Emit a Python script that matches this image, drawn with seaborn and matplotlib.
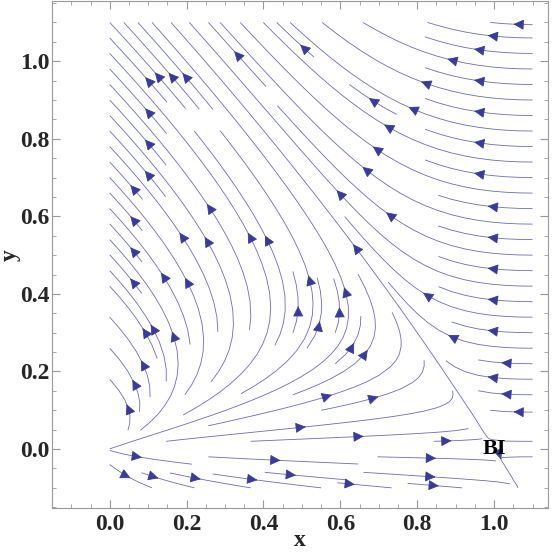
import numpy as np
import seaborn as sns
import matplotlib.pyplot as plt
from matplotlib.ticker import MultipleLocator

# field parameters (saddle at BI = (1, 0), source near origin)
k_coupling = 0.67
r_growth = 0.65
c_shift = 1.1

# stream domain and axis limits
x_domain = [0.0, 1.1]
y_domain = [-0.1, 1.1]
x_limits = [-0.15, 1.14]
y_limits = [-0.152, 1.155]
major_ticks = [0.0, 0.2, 0.4, 0.6, 0.8, 1.0]
tick_labels = ["0.0", "0.2", "0.4", "0.6", "0.8", "1.0"]

label_text = "BI"
label_pos = [1.0, 0.0]

sns.set_style("ticks")
plt.rcParams['font.family'] = ['Liberation Serif', 'DejaVu Serif']

x = np.linspace(x_domain[0], x_domain[1], 120)
y = np.linspace(y_domain[0], y_domain[1], 120)
X, Y = np.meshgrid(x, y)
U = X * (1 - X) - k_coupling * Y
V = r_growth * Y * (c_shift - X)

fig = plt.figure(figsize=(5.54, 5.54), dpi=100)
ax = fig.add_axes([0.094, 0.083, 0.895, 0.915])

strm = ax.streamplot(X, Y, U, V, density=1.05, color='#3a3a9c', linewidth=0.6,
                     arrowsize=1.6, arrowstyle='-|>', minlength=0.1)
# thin stream lines are lighter than the arrow heads in the reference
strm.lines.set_color('#6c6cb6')

ax.text(label_pos[0], label_pos[1], label_text, fontsize=16, fontweight='bold',
        ha='center', va='center', color='black')

ax.set_xlim(x_limits)
ax.set_ylim(y_limits)
ax.set_xticks(major_ticks)
ax.set_yticks(major_ticks)
ax.set_xticklabels(tick_labels, fontsize=17, fontweight='bold')
ax.set_yticklabels(tick_labels, fontsize=17, fontweight='bold')
ax.xaxis.set_minor_locator(MultipleLocator(0.05))
ax.yaxis.set_minor_locator(MultipleLocator(0.05))
ax.tick_params(which='both', direction='in', top=True, right=True, color='#999999')
ax.tick_params(which='major', length=6)
ax.tick_params(which='minor', length=3)
ax.tick_params(axis='x', which='major', pad=4)
ax.tick_params(axis='y', which='major', pad=2)
for s in ax.spines.values():
    s.set_color('#999999')
    s.set_linewidth(0.8)

ax.set_xlabel("x", fontsize=17, fontweight='bold', labelpad=-3)
ax.set_ylabel("y", fontsize=17, fontweight='bold', labelpad=-1)

fig.savefig("out.png", dpi=100)
